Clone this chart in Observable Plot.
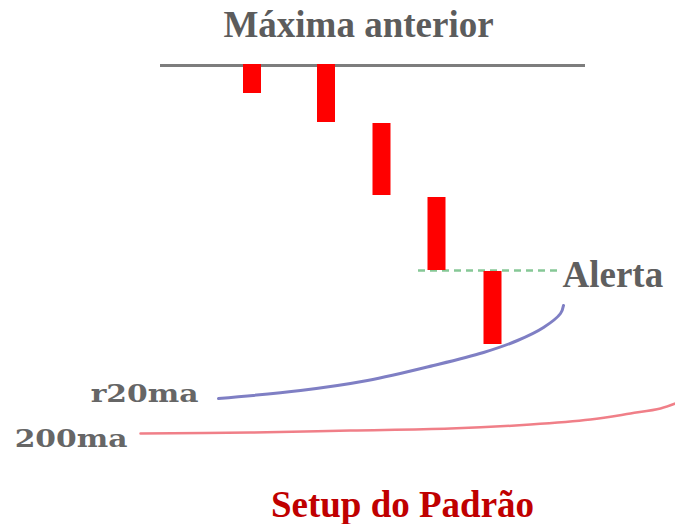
<!DOCTYPE html>
<html>
<head>
<meta charset="utf-8">
<script src="https://cdn.jsdelivr.net/npm/d3@7"></script>
<script src="https://cdn.jsdelivr.net/npm/@observablehq/plot@0.6"></script>
<style>
  html, body { margin: 0; padding: 0; background: #ffffff; }
  #wrap { width: 675px; height: 524px; overflow: hidden; }
  .title { height: 50px; line-height: 50px; padding-left: 42px; text-align: center;
           font-family: "Liberation Serif", serif; font-weight: bold; font-size: 37px; color: #5c5c5c; }
  .caption { height: 50px; line-height: 62px; padding-left: 130px; text-align: center;
             font-family: "Liberation Serif", serif; font-weight: bold; font-size: 37px; color: #c00000; }
  svg { display: block; }
</style>
</head>
<body>
<div id="wrap">
  <div class="title">Máxima anterior</div>
  <div id="chart"></div>
  <div class="caption">Setup do Padrão</div>
</div>
<script>
// ---- data (schematic time units on x, price units on y) ----
const candleTime  = [251.5, 325.5, 381, 436, 492];
const candleOpen  = [410, 410, 351, 277, 203];
const candleClose = [381, 352, 279, 204, 130];

const previousHigh = 409;          // "Máxima anterior"
const previousHighSpan = [160, 585];
const alertLevel = 204;            // "Alerta"
const alertSpan = [418, 558];

const r20Time  = [218, 300, 367, 433, 483, 517, 543, 560, 563];
const r20Value = [76, 84, 94, 109, 122, 134, 147, 161, 169];

const ma200Time  = [140, 250, 350, 450, 530, 590, 630, 660, 675];
const ma200Value = [41, 42, 44, 46, 50, 55, 61, 66, 71];

const labels = ["r20ma", "200ma", "Alerta"];

// ---- tables built from the arrays ----
const candles = candleTime.map((t, i) => ({t, open: candleOpen[i], close: candleClose[i]}));
const r20 = r20Time.map((t, i) => ({t, v: r20Value[i]}));
const ma200 = ma200Time.map((t, i) => ({t, v: ma200Value[i]}));

const W = 675, H = 424;
const chart = Plot.plot({
  width: W,
  height: H,
  margin: 0,
  x: {domain: [0, 675], axis: null},
  y: {domain: [0, 424], axis: null},
  style: {background: "white", overflow: "visible"},
  marks: [
    Plot.ruleY([previousHigh], {x1: previousHighSpan[0], x2: previousHighSpan[1], stroke: "#7d7d7d", strokeWidth: 3}),
    Plot.ruleY([alertLevel], {x1: alertSpan[0], x2: alertSpan[1], stroke: "#86c896", strokeWidth: 2.5, strokeDasharray: "7,5"}),
    Plot.ruleX(candles, {x: "t", y1: "open", y2: "close", stroke: "#ff0000", strokeWidth: 18}),
    Plot.line(r20, {x: "t", y: "v", stroke: "#7f7fc4", strokeWidth: 3, curve: "catmull-rom"}),
    Plot.line(ma200, {x: "t", y: "v", stroke: "#f07f88", strokeWidth: 2.5, curve: "catmull-rom"}),
    Plot.text([labels[0]], {x: r20Time[0], y: r20Value[0], text: d => d, textAnchor: "end", dx: -20, dy: -4,
      fontFamily: "DejaVu Serif", fontWeight: "bold", fontSize: 24, fill: "#666666"}),
    Plot.text([labels[1]], {x: ma200Time[0], y: ma200Value[0], text: d => d, textAnchor: "end", dx: -13, dy: 6,
      fontFamily: "DejaVu Serif", fontWeight: "bold", fontSize: 24, fill: "#666666"}),
    Plot.text([labels[2]], {x: alertSpan[1], y: alertLevel, text: d => d, textAnchor: "start", dx: 4, dy: 5,
      fontFamily: "Liberation Serif", fontWeight: "bold", fontSize: 37, fill: "#5f5f5f"})
  ]
});
// the reference's moving-average labels are set in a horizontally widened face
d3.select(chart).selectAll("text").filter(function() {
  const s = this.textContent; return s === "r20ma" || s === "200ma";
}).each(function() {
  const t = this.getAttribute("transform") || "";
  this.setAttribute("transform", (t + " scale(1.24,1)").trim());
});
document.getElementById("chart").appendChild(chart);
</script>
</body>
</html>
